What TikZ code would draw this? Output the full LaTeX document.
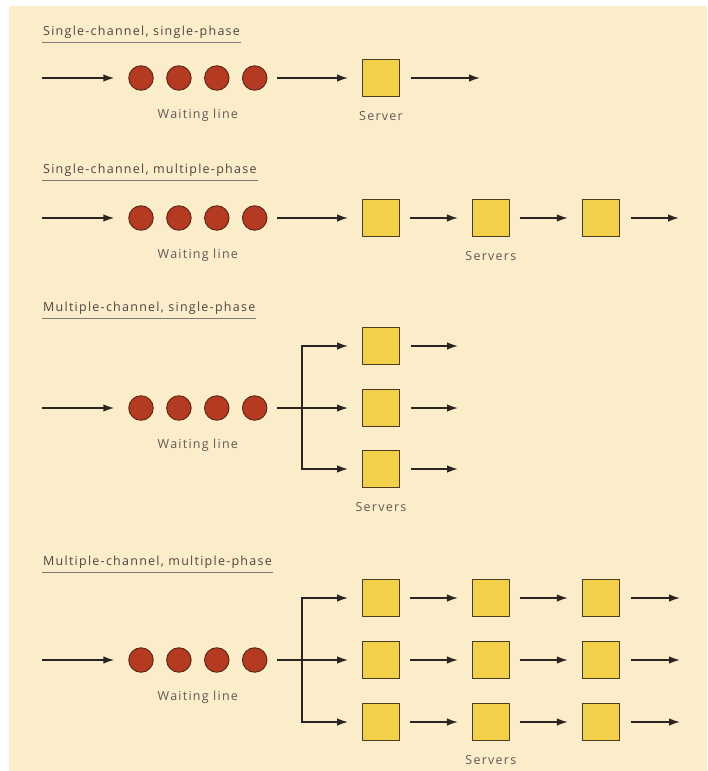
\documentclass[tikz,border=0pt]{standalone}
\usepackage{fontspec}
\setmainfont{Open Sans}
\newfontfamily\lblfont[LetterSpace=10]{Open Sans}
\usetikzlibrary{arrows.meta,positioning,calc}
\definecolor{paper}{HTML}{FBEDCA}
\definecolor{ink}{HTML}{2A2520}
\definecolor{queue}{HTML}{B53A22}
\definecolor{queueedge}{HTML}{5A2414}
\definecolor{server}{HTML}{F3D04A}
\definecolor{serveredge}{HTML}{4A3C22}
\definecolor{label}{HTML}{5E5A56}
\tikzset{
  >={Latex[length=11pt,width=7.5pt]},
  every node/.style={text=ink},
  cust/.style={circle,draw=queueedge,fill=queue,line width=0.9pt,minimum size=24.5pt,inner sep=0pt},
  serverbox/.style={draw=serveredge,fill=server,line width=0.9pt,minimum size=37pt,inner sep=0pt},
  flow/.style={->,line width=1.6pt,draw=ink,shorten >=14pt},
  link/.style={flow,shorten <=10pt},
  exit/.style={->,line width=1.6pt,draw=ink,shorten <=11pt},
  title/.style={font=\lblfont\fontsize{12.5}{14}\selectfont,anchor=south west,inner xsep=1pt,inner ysep=3pt,text=ink!85},
  rule/.style={draw=label!80,line width=0.8pt},
  caption/.style={font=\lblfont\fontsize{12.5}{14}\selectfont,text=label},
}
\begin{document}
\begin{tikzpicture}[x=1pt,y=-1pt]
\useasboundingbox (0,0) rectangle (707,771);
\fill[white] (0,0) rectangle (707,771);
\fill[paper] (9,6) rectangle (707,771);

% single-channel, single-phase
\node[title] (t1) at (42,42) {Single-channel, single-phase};
\draw[rule] (t1.south west) -- (t1.south east);
\coordinate (in1) at (42,78);
\node[cust] (q1a) at (141,78) {};
\node[cust,right=12.5pt of q1a] (q1b) {};
\node[cust,right=12.5pt of q1b] (q1c) {};
\node[cust,right=12.5pt of q1c] (q1d) {};
\node[serverbox] (s1) at (381,78) {};
\coordinate (out1) at (480,78);
\node[caption,below=15pt of $(q1b.south)!0.5!(q1c.south)$] (w1) {Waiting line};
\node[caption,below=11pt of s1] (v1) {Server};
\draw[flow] (in1) -- (q1a);
\draw[link] (q1d) -- (s1);
\draw[exit] (s1) -- (out1);

% single-channel, multiple-phase
\node[title] (t2) at (42,180) {Single-channel, multiple-phase};
\draw[rule] (t2.south west) -- (t2.south east);
\coordinate (in2) at (42,218);
\node[cust] (q2a) at (141,218) {};
\node[cust,right=12.5pt of q2a] (q2b) {};
\node[cust,right=12.5pt of q2b] (q2c) {};
\node[cust,right=12.5pt of q2c] (q2d) {};
\node[serverbox] (s2a) at (381,218) {};
\node[serverbox,right=72pt of s2a] (s2b) {};
\node[serverbox,right=72pt of s2b] (s2c) {};
\coordinate (out2) at (679,218);
\node[caption,below=15pt of $(q2b.south)!0.5!(q2c.south)$] (w2) {Waiting line};
\node[caption,below=11pt of s2b] (v2) {Servers};
\draw[flow] (in2) -- (q2a);
\draw[link] (q2d) -- (s2a);
\draw[link] (s2a) -- (s2b);
\draw[link] (s2b) -- (s2c);
\draw[exit] (s2c) -- (out2);

% multiple-channel, single-phase
\node[title] (t3) at (42,318) {Multiple-channel, single-phase};
\draw[rule] (t3.south west) -- (t3.south east);
\coordinate (in3) at (42,408);
\node[cust] (q3a) at (141,408) {};
\node[cust,right=12.5pt of q3a] (q3b) {};
\node[cust,right=12.5pt of q3b] (q3c) {};
\node[cust,right=12.5pt of q3c] (q3d) {};
\coordinate (fork3) at (302,408);
\node[serverbox] (s3a) at (381,346) {};
\node[serverbox] (s3b) at (381,408) {};
\node[serverbox] (s3c) at (381,469) {};
\coordinate (out3a) at (458,346);
\coordinate (out3b) at (458,408);
\coordinate (out3c) at (458,469);
\node[caption,below=15pt of $(q3b.south)!0.5!(q3c.south)$] (w3) {Waiting line};
\node[caption,below=11pt of s3c] (v3) {Servers};
\draw[flow] (in3) -- (q3a);
\draw[link] (q3d) -- (s3b);
\draw[flow] (fork3) |- (s3a);
\draw[flow] (fork3) |- (s3c);
\draw[exit] (s3a) -- (out3a);
\draw[exit] (s3b) -- (out3b);
\draw[exit] (s3c) -- (out3c);

% multiple-channel, multiple-phase
\node[title] (t4) at (42,572) {Multiple-channel, multiple-phase};
\draw[rule] (t4.south west) -- (t4.south east);
\coordinate (in4) at (42,660);
\node[cust] (q4a) at (141,660) {};
\node[cust,right=12.5pt of q4a] (q4b) {};
\node[cust,right=12.5pt of q4b] (q4c) {};
\node[cust,right=12.5pt of q4c] (q4d) {};
\coordinate (fork4) at (302,660);
\node[serverbox] (s4a) at (381,598) {};
\node[serverbox,right=72pt of s4a] (s4b) {};
\node[serverbox,right=72pt of s4b] (s4c) {};
\node[serverbox] (s4d) at (381,660) {};
\node[serverbox,right=72pt of s4d] (s4e) {};
\node[serverbox,right=72pt of s4e] (s4f) {};
\node[serverbox] (s4g) at (381,722) {};
\node[serverbox,right=72pt of s4g] (s4h) {};
\node[serverbox,right=72pt of s4h] (s4i) {};
\coordinate (out4a) at (680,598);
\coordinate (out4b) at (680,660);
\coordinate (out4c) at (680,722);
\node[caption,below=15pt of $(q4b.south)!0.5!(q4c.south)$] (w4) {Waiting line};
\node[caption,below=11pt of s4h] (v4) {Servers};
\draw[flow] (in4) -- (q4a);
\draw[link] (q4d) -- (s4d);
\draw[flow] (fork4) |- (s4a);
\draw[flow] (fork4) |- (s4g);
\draw[link] (s4a) -- (s4b);
\draw[link] (s4b) -- (s4c);
\draw[link] (s4d) -- (s4e);
\draw[link] (s4e) -- (s4f);
\draw[link] (s4g) -- (s4h);
\draw[link] (s4h) -- (s4i);
\draw[exit] (s4c) -- (out4a);
\draw[exit] (s4f) -- (out4b);
\draw[exit] (s4i) -- (out4c);

\end{tikzpicture}
\end{document}
